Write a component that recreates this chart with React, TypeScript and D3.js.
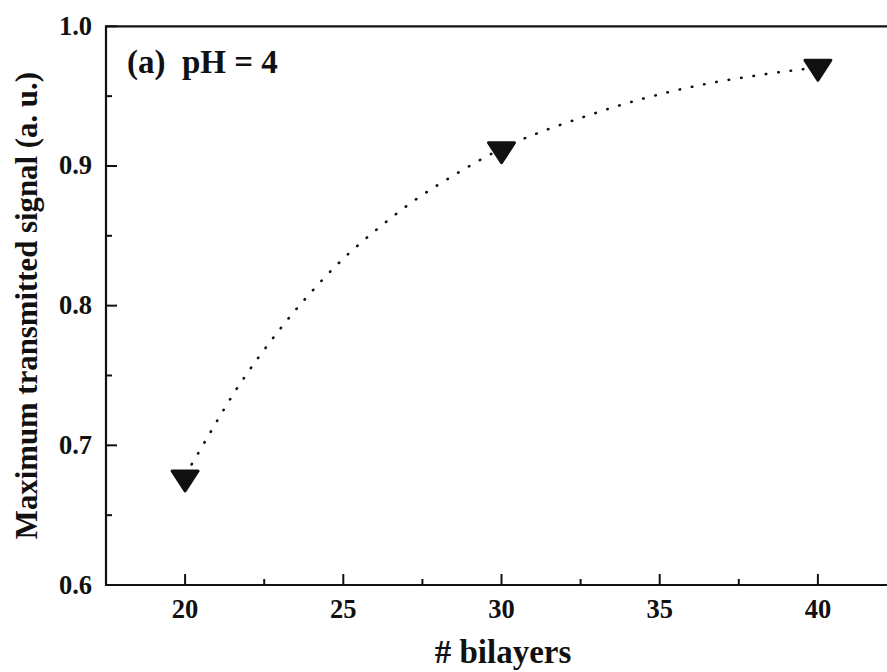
import React from "react";
import * as d3 from "d3";

const bilayers = [20, 30, 40];
const signal = [0.677, 0.912, 0.971];

// dotted fit curve
const fitX = [20.0, 20.17, 21.69, 23.01, 23.93, 24.98, 26.14, 27.3, 28.42, 29.56, 30.73, 32.62, 34.52, 36.41, 38.31, 39.5, 40.0];
const fitY = [0.679, 0.685, 0.7425, 0.7835, 0.8083, 0.8332, 0.8561, 0.8762, 0.8923, 0.9072, 0.9198, 0.9353, 0.9485, 0.9585, 0.9656, 0.9692, 0.9705];

const xMajor = [20, 25, 30, 35, 40];
const xMinor = [22.5, 27.5, 32.5, 37.5, 42.5];
const yMajor = [0.6, 0.7, 0.8, 0.9, 1.0];
const yMinor = [0.65, 0.75, 0.85, 0.95];

const W = 887;
const H = 672;
const FONT = "'Liberation Serif', 'Times New Roman', serif";

export default function App() {
  const x = d3.scaleLinear().domain([17.5, 42.5]).range([106, 897]);
  const y = d3.scaleLinear().domain([0.6, 1.0]).range([585, 26.3]);

  const line = d3
    .line<number>()
    .x((_, i) => x(fitX[i]))
    .y((d) => y(d))
    .curve(d3.curveCatmullRom);

  const tri = "M-13,-6.5 L13,-6.5 L0,13.5 Z";

  return (
    <svg
      width={W}
      height={H}
      style={{ position: "absolute", left: 0, top: 0, background: "#fff" }}
      fontFamily={FONT}
      fontWeight="bold"
    >
      {/* frame */}
      <line x1={x(17.5)} x2={W + 5} y1={y(0.6)} y2={y(0.6)} stroke="#111" strokeWidth={2.2} />
      <line x1={x(17.5)} x2={W + 5} y1={y(1.0)} y2={y(1.0)} stroke="#111" strokeWidth={2.2} />
      <line x1={x(17.5)} x2={x(17.5)} y1={y(0.6) + 1.1} y2={y(1.0) - 1.1} stroke="#111" strokeWidth={2.2} />

      {/* x ticks */}
      {xMajor.map((v) => (
        <line key={"xM" + v} x1={x(v)} x2={x(v)} y1={y(0.6)} y2={y(0.6) - 11} stroke="#111" strokeWidth={2} />
      ))}
      {xMinor.map((v) => (
        <line key={"xm" + v} x1={x(v)} x2={x(v)} y1={y(0.6)} y2={y(0.6) - 6} stroke="#111" strokeWidth={2} />
      ))}
      {xMajor.map((v) => (
        <text key={"xl" + v} x={x(v)} y={618} textAnchor="middle" fontSize={26.5} fill="#111">
          {v}
        </text>
      ))}

      {/* y ticks */}
      {yMajor.map((v) => (
        <line key={"yM" + v} x1={x(17.5)} x2={x(17.5) + 11} y1={y(v)} y2={y(v)} stroke="#111" strokeWidth={2} />
      ))}
      {yMinor.map((v) => (
        <line key={"ym" + v} x1={x(17.5)} x2={x(17.5) + 6} y1={y(v)} y2={y(v)} stroke="#111" strokeWidth={2} />
      ))}
      {yMajor.map((v) => (
        <text key={"yl" + v} x={92} y={y(v) + 8.5} textAnchor="end" fontSize={26.5} fill="#111">
          {d3.format(".1f")(v)}
        </text>
      ))}

      {/* titles */}
      <text x={503} y={663} textAnchor="middle" fontSize={33} fill="#111">
        # bilayers
      </text>
      <text
        transform={`translate(37,${(y(0.6) + y(1.0)) / 2}) rotate(-90)`}
        textAnchor="middle"
        fontSize={30.8}
        fill="#111"
      >
        Maximum transmitted signal (a. u.)
      </text>
      <text x={127} y={73} fontSize={33} fill="#111" style={{ whiteSpace: "pre" }}>
        {"(a)  pH = 4"}
      </text>

      {/* fit curve */}
      <path
        d={line(fitY) || ""}
        fill="none"
        stroke="#111"
        strokeWidth={2.6}
        strokeLinecap="round"
        strokeDasharray="0.5 12"
      />

      {/* markers */}
      {bilayers.map((b, i) => (
        <path
          key={"p" + b}
          d={tri}
          transform={`translate(${x(b)},${y(signal[i])})`}
          fill="#111"
          stroke="#111"
          strokeWidth={3}
          strokeLinejoin="round"
        />
      ))}
    </svg>
  );
}
